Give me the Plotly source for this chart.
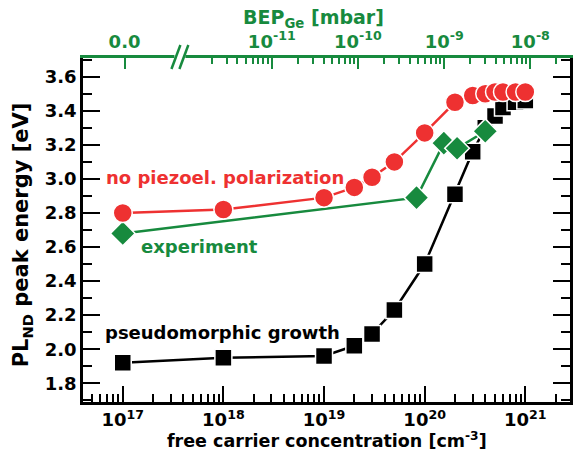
import plotly.graph_objects as go

# ---- data ----
x_black = [1e17, 1e18, 1e19, 2e19, 3e19, 5e19, 1e20, 2e20, 3e20, 4e20, 5e20, 6e20, 8e20, 1e21]
y_black = [1.92, 1.95, 1.96, 2.02, 2.09, 2.23, 2.50, 2.91, 3.16, 3.30, 3.37, 3.42, 3.45, 3.46]

x_red = [1e17, 1e18, 1e19, 2e19, 3e19, 5e19, 1e20, 2e20, 3e20, 4e20, 5e20, 6e20, 8e20, 1e21]
y_red = [2.80, 2.82, 2.89, 2.95, 3.01, 3.10, 3.27, 3.45, 3.49, 3.50, 3.51, 3.51, 3.51, 3.51]

x_green = [1e17, 8.3e19, 1.55e20, 2.1e20, 4e20]
y_green = [2.68, 2.89, 3.21, 3.18, 3.28]

x_tick_vals = [1e17, 1e18, 1e19, 1e20, 1e21]
x_tick_text = ["10<sup>17</sup>", "10<sup>18</sup>", "10<sup>19</sup>", "10<sup>20</sup>", "10<sup>21</sup>"]

top_tick_vals = [10 ** -12.708, 1e-11, 1e-10, 1e-9, 1e-8]
top_tick_text = ["0.0", "10<sup>-11</sup>", "10<sup>-10</sup>", "10<sup>-9</sup>", "10<sup>-8</sup>"]

y_tick_vals = [1.8, 2.0, 2.2, 2.4, 2.6, 2.8, 3.0, 3.2, 3.4, 3.6]

RED = "#ee3131"
GREEN = "#178a3e"
BLACK = "#000000"
FONT = "DejaVu Sans"

# minor ticks
minor_bottom = [m * 1e16 for m in range(5, 10)]
for d in range(17, 21):
    minor_bottom += [m * 10.0 ** d for m in range(2, 10)]
minor_bottom += [2e21]

minor_top = []
for d in range(-12, -8):
    minor_top += [m * 10.0 ** d for m in range(2, 10)]
minor_top += [2e-8]

fig = go.Figure()

fig.add_trace(go.Scatter(
    x=x_black, y=y_black, mode="lines+markers",
    line=dict(color=BLACK, width=2.5),
    marker=dict(symbol="square", size=17, color=BLACK, line=dict(color="white", width=1.5)),
    showlegend=False, cliponaxis=False))
fig.add_trace(go.Scatter(
    x=x_green, y=y_green, mode="lines+markers",
    line=dict(color=GREEN, width=2.5),
    marker=dict(symbol="diamond", size=19, color=GREEN, line=dict(color="white", width=1.5)),
    showlegend=False, cliponaxis=False))
fig.add_trace(go.Scatter(
    x=x_red, y=y_red, mode="lines+markers",
    line=dict(color=RED, width=2.5),
    marker=dict(symbol="circle", size=19, color=RED, line=dict(color="white", width=1.5)),
    showlegend=False, cliponaxis=False))
# empty trace to activate top axis
fig.add_trace(go.Scatter(x=[], y=[], xaxis="x2", yaxis="y", showlegend=False))

tickfont = dict(family=FONT, size=18, color=BLACK, weight="bold")

fig.update_layout(
    width=573, height=455,
    margin=dict(l=83, r=0, t=58, b=53),
    paper_bgcolor="white", plot_bgcolor="white",
    font=dict(family=FONT, weight="bold"),
    xaxis=dict(
        type="log", range=[16.605, 21.444],
        tickmode="array", tickvals=x_tick_vals, ticktext=x_tick_text,
        ticks="inside", ticklen=16, tickwidth=2, tickcolor=BLACK,
        minor=dict(tickmode="array", tickvals=minor_bottom, ticks="inside", ticklen=8,
                   tickwidth=2, tickcolor=BLACK, showgrid=False),
        showline=True, linecolor=BLACK, linewidth=2.5, mirror=False,
        showgrid=False, zeroline=False, tickfont=tickfont,
    ),
    xaxis2=dict(
        type="log", range=[-13.19, -7.54], overlaying="x", side="top",
        tickmode="array", tickvals=top_tick_vals, ticktext=top_tick_text,
        ticks="inside", ticklen=11, tickwidth=2, tickcolor=GREEN,
        minor=dict(tickmode="array", tickvals=minor_top, ticks="inside", ticklen=6,
                   tickwidth=2, tickcolor=GREEN, showgrid=False),
        showline=True, linecolor=GREEN, linewidth=2.5,
        showgrid=False, zeroline=False,
        tickfont=dict(family=FONT, size=18, color=GREEN, weight="bold"),
    ),
    yaxis=dict(
        range=[1.69, 3.71],
        tickmode="array", tickvals=y_tick_vals, ticktext=[f"{v:.1f}" for v in y_tick_vals],
        ticks="inside", ticklen=17, tickwidth=2, tickcolor=BLACK,
        minor=dict(dtick=0.1, tick0=1.7, ticks="inside", ticklen=9, tickwidth=2,
                   tickcolor=BLACK, showgrid=False),
        showline=True, linecolor=BLACK, linewidth=2.5, mirror="ticks",
        showgrid=False, zeroline=False, tickfont=tickfont,
    ),
)

def px(xp):
    return (xp - 83) / 490.0

def py(yp):
    return (402 - yp) / 344.0

annotations = [
    dict(text="free carrier concentration [cm<sup>-3</sup>]", x=0.5, y=py(440),
         font=dict(family=FONT, size=17.5, color=BLACK, weight="bold")),
    dict(text="PL<sub>ND</sub> peak energy [eV]", x=px(22), y=py(235), textangle=-90,
         font=dict(family=FONT, size=21, color=BLACK, weight="bold")),
    dict(text="BEP<sub>Ge</sub> [mbar]", x=px(315), y=py(18),
         font=dict(family=FONT, size=19, color=GREEN, weight="bold")),
    dict(text="no piezoel. polarization", x=px(104), y=py(177), xanchor="left",
         font=dict(family=FONT, size=18, color=RED, weight="bold")),
    dict(text="experiment", x=px(139), y=py(246), xanchor="left",
         font=dict(family=FONT, size=18, color=GREEN, weight="bold")),
    dict(text="pseudomorphic growth", x=px(103), y=py(332), xanchor="left",
         font=dict(family=FONT, size=18, color=BLACK, weight="bold")),
]
for a in annotations:
    a.setdefault("xanchor", "center")
    a.update(xref="paper", yref="paper", yanchor="middle", showarrow=False)
fig.update_layout(annotations=annotations)

# axis break marks on top axis
shapes = [
    dict(type="rect", xref="paper", yref="paper", x0=px(175), x1=px(186), y0=py(61), y1=py(55),
         fillcolor="white", line=dict(width=0), layer="above"),
    dict(type="line", xref="paper", yref="paper", x0=px(172), y0=py(69), x1=px(181), y1=py(45),
         line=dict(color=GREEN, width=2.5), layer="above"),
    dict(type="line", xref="paper", yref="paper", x0=px(180), y0=py(69), x1=px(189), y1=py(45),
         line=dict(color=GREEN, width=2.5), layer="above"),
]
fig.update_layout(shapes=shapes)

fig.write_html("out.html")
